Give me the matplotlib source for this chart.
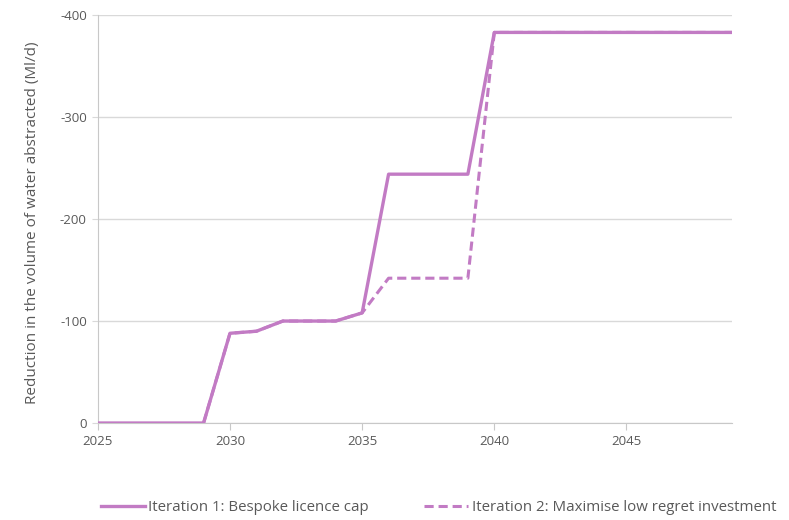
import matplotlib
matplotlib.use('Agg')
import matplotlib.pyplot as plt

years = list(range(2025, 2050))
iter1 = [0, 0, 0, 0, 0, -88, -90, -100, -100, -100, -108, -244, -244, -244, -244,
         -383, -383, -383, -383, -383, -383, -383, -383, -383, -383]
iter2 = [0, 0, 0, 0, 0, -88, -90, -100, -100, -100, -108, -142, -142, -142, -142,
         -383, -383, -383, -383, -383, -383, -383, -383, -383, -383]
labels = ['Iteration 1: Bespoke licence cap', 'Iteration 2: Maximise low regret investment']

plt.rcParams['font.family'] = ['Open Sans', 'DejaVu Sans']
plt.rcParams['axes.unicode_minus'] = False
col = '#C27BC4'
grey = '#595959'
axcol = '#C8C8C8'

fig = plt.figure(figsize=(7.89, 5.2), dpi=100)
ax = fig.add_axes([0.124, 0.1865, 0.804, 0.7845])

ax.plot(years[4:], iter2[4:], color=col, lw=2.2, ls=(0, (3, 1.6)), label=labels[1], zorder=2)
ax.plot(years, iter1, color=col, lw=2.4, label=labels[0], zorder=3)

ax.set_xlim(2025, 2049)
ax.set_ylim(0, -400)
ax.set_xticks([2025, 2030, 2035, 2040, 2045])
ax.set_yticks([0, -100, -200, -300, -400])
ax.grid(axis='y', color='#D9D9D9', lw=1)
ax.set_axisbelow(True)
for s in ['top', 'right']:
    ax.spines[s].set_visible(False)
ax.spines['bottom'].set_color(axcol)
ax.spines['left'].set_color(axcol)
ax.tick_params(axis='x', colors=axcol, labelcolor=grey, labelsize=9.5, length=5, direction='out')
ax.tick_params(axis='y', colors='#D9D9D9', length=4, labelcolor=grey, labelsize=9.5, pad=4)
ax.set_ylabel('Reduction in the volume of water abstracted (Ml/d)', color=grey, fontsize=11,
              labelpad=14)
ax.yaxis.label.set_y(0.49)

h, l = ax.get_legend_handles_labels()
fig.legend([h[1], h[0]], [l[1], l[0]], loc='lower center', ncol=2, frameon=False,
           bbox_to_anchor=(0.556, -0.016), fontsize=10.8, labelcolor=grey, columnspacing=3.7,
           handlelength=2.9, handletextpad=0.25)

plt.savefig('out.png', dpi=100)
